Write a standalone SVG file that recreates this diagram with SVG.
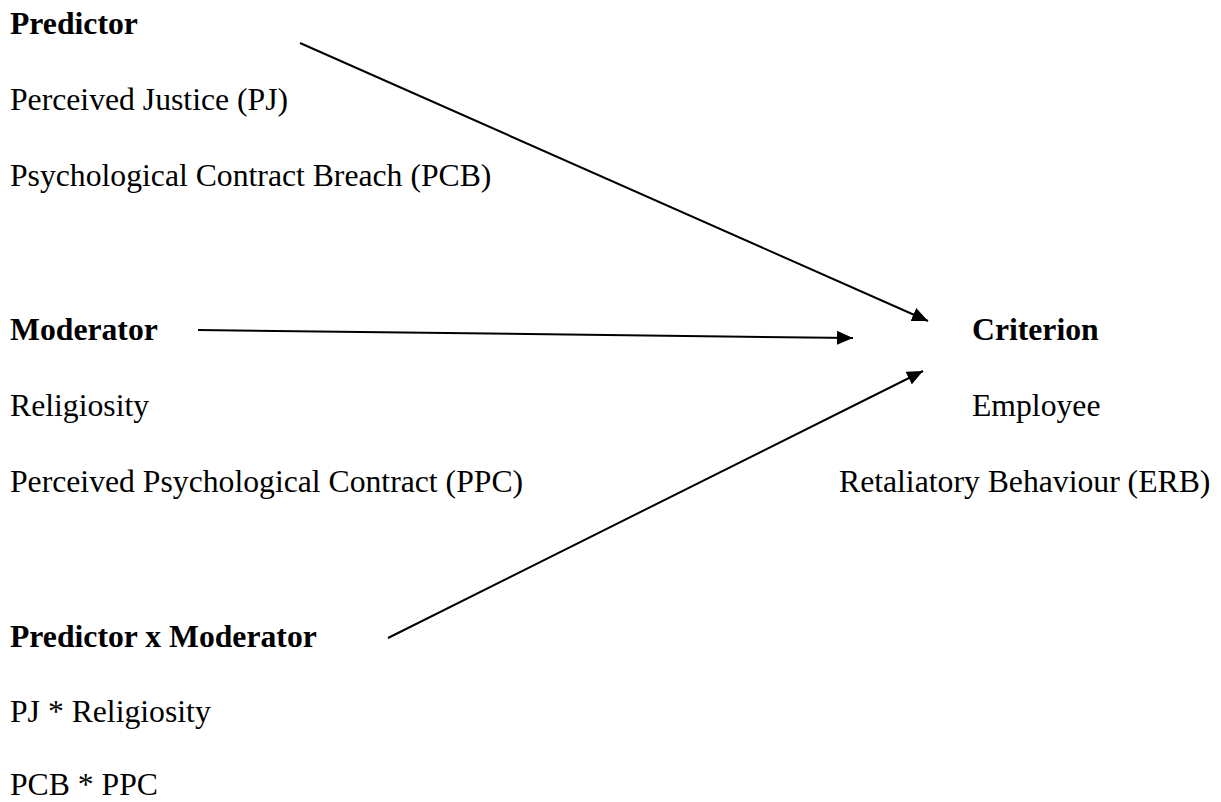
<svg xmlns="http://www.w3.org/2000/svg" width="1221" height="802" viewBox="0 0 1221 802">
  <style>
    text { font-family: "Liberation Serif", "Times New Roman", serif; font-size: 31.7px; fill: #000; }
    .head { font-weight: bold; }
    .conn { stroke: #000; stroke-width: 2; fill: none; }
  </style>
  <defs>
    <marker id="arrow" markerUnits="userSpaceOnUse" markerWidth="17" markerHeight="14" refX="16" refY="7" orient="auto">
      <path d="M0,0 L16,7 L0,14 Z" fill="#000"/>
    </marker>
  </defs>
  <rect width="1221" height="802" fill="#fff"/>

  <!-- Left column: predictor block -->
  <g id="predictor">
    <text class="head" x="10" y="34">Predictor</text>
    <text x="10" y="110">Perceived Justice (PJ)</text>
    <text x="10" y="186">Psychological Contract Breach (PCB)</text>
  </g>

  <!-- Left column: moderator block -->
  <g id="moderator">
    <text class="head" x="10" y="340">Moderator</text>
    <text x="10" y="416">Religiosity</text>
    <text x="10" y="492">Perceived Psychological Contract (PPC)</text>
  </g>

  <!-- Left column: interaction block -->
  <g id="interaction">
    <text class="head" x="10" y="647">Predictor x Moderator</text>
    <text x="10" y="722">PJ * Religiosity</text>
    <text x="10" y="795">PCB * PPC</text>
  </g>

  <!-- Right column: outcome -->
  <g id="criterion">
    <text class="head" x="972" y="340">Criterion</text>
    <text x="972" y="416">Employee</text>
    <text x="839" y="492">Retaliatory Behaviour (ERB)</text>
  </g>

  <!-- Paths into the criterion -->
  <g id="connectors">
    <line class="conn" x1="300" y1="43" x2="928" y2="321" marker-end="url(#arrow)"/>
    <line class="conn" x1="198" y1="330" x2="853" y2="338" marker-end="url(#arrow)"/>
    <line class="conn" x1="388" y1="638" x2="923" y2="371" marker-end="url(#arrow)"/>
  </g>
</svg>
